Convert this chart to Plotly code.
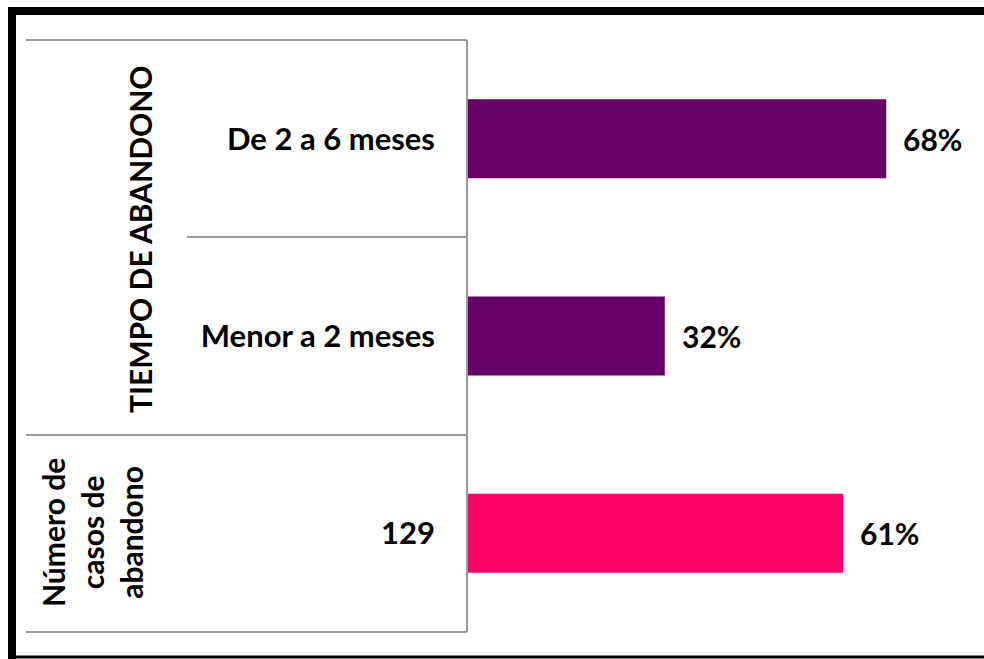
import plotly.graph_objects as go

# data
categorias = ["De 2 a 6 meses", "Menor a 2 meses", "129"]
valores = [0.68, 0.32, 0.61]
colores = ["#660066", "#660066", "#FF0066"]

W, H = 984, 659
# plot area in pixels: x 468..960, y 40..632
L, R, T, B = 468, W - 960, 40, H - 632
FONT = "Lato"
FS = 30


def px2x(p):
    return (p - L) / (W - L - R)


def px2y(p):
    return (H - B - p) / (H - T - B)


def linea(x0, y0, x1, y1, **line):
    return dict(type="line", xref="paper", yref="paper",
                x0=px2x(x0), x1=px2x(x1), y0=px2y(y0), y1=px2y(y1), line=line)


orden = categorias[::-1]

fig = go.Figure()
fig.add_trace(go.Bar(
    y=categorias,
    x=valores,
    orientation="h",
    marker=dict(color=colores, line=dict(width=0)),
    width=0.4,
    cliponaxis=False,
    hoverinfo="skip",
))

# value labels next to the bars
for c, v in zip(categorias, valores):
    fig.add_annotation(x=v, y=orden.index(c), text=f"<b>{v:.0%}</b>", showarrow=False,
                       xanchor="left", xshift=15,
                       font=dict(family=FONT, size=FS, color="black"))

grey = dict(color="#999999", width=2)
shapes = [
    # outer frame (top, left, bottom)
    linea(8, 11, 990, 11, color="black", width=8),
    linea(12, 7, 12, 665, color="black", width=8),
    linea(8, 657, 990, 657, color="black", width=3),
    # table lines
    linea(26, 40, 467, 40, **grey),
    linea(187, 237, 467, 237, **grey),
    linea(26, 435, 467, 435, **grey),
    linea(26, 632, 467, 632, **grey),
    linea(467, 40, 467, 632, **grey),
]

fig.add_annotation(xref="paper", yref="paper", x=px2x(140), y=px2y(239),
                   xanchor="center", yanchor="middle",
                   text="<b>TIEMPO DE ABANDONO</b>", textangle=-90, showarrow=False,
                   font=dict(family=FONT, size=FS, color="black"))
fig.add_annotation(xref="paper", yref="paper", x=px2x(92), y=px2y(533),
                   xanchor="center", yanchor="middle",
                   text="<b>Número de<br>casos de<br>abandono</b>", textangle=-90,
                   showarrow=False, align="center",
                   font=dict(family=FONT, size=FS, color="black"))

fig.update_layout(
    width=W, height=H,
    margin=dict(l=L, r=R, t=T, b=B, autoexpand=False),
    plot_bgcolor="white", paper_bgcolor="white",
    showlegend=False,
    shapes=shapes,
    font=dict(family=FONT, size=FS, color="black"),
    xaxis=dict(range=[0, 0.8], visible=False, automargin=False),
    yaxis=dict(type="category", categoryorder="array",
               categoryarray=orden, range=[-0.5, 2.5], automargin=False,
               showgrid=False, zeroline=False, showline=False,
               ticks="", ticklabelstandoff=32,
               tickfont=dict(family=FONT, size=31, weight="bold")),
)

# drop the default page margin so the figure fills the window
fig.write_html("out.html",
               config={"displayModeBar": False},
               post_script="document.body.style.margin='0';"
                           "document.body.style.overflow='hidden';")
